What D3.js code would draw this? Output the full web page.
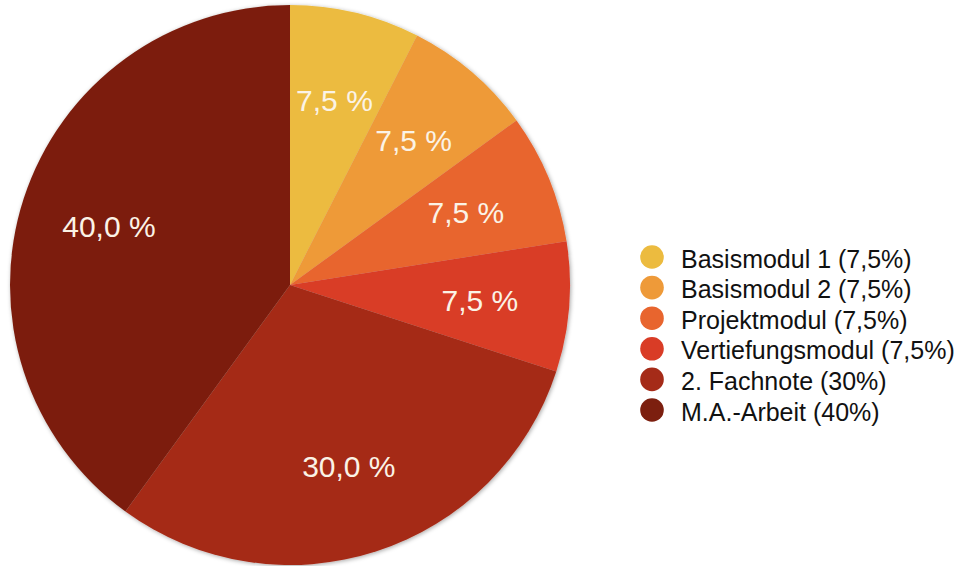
<!DOCTYPE html>
<html>
<head>
<meta charset="utf-8">
<script src="https://cdn.jsdelivr.net/npm/d3@7"></script>
<style>
  body { margin: 0; background: #fff; }
</style>
</head>
<body>
<script>
const categories = ["Basismodul 1", "Basismodul 2", "Projektmodul", "Vertiefungsmodul", "2. Fachnote", "M.A.-Arbeit"];
const values = [7.5, 7.5, 7.5, 7.5, 30, 40];
const legendLabels = ["Basismodul 1 (7,5%)", "Basismodul 2 (7,5%)", "Projektmodul (7,5%)", "Vertiefungsmodul (7,5%)", "2. Fachnote (30%)", "M.A.-Arbeit (40%)"];
const sliceLabels = ["7,5 %", "7,5 %", "7,5 %", "7,5 %", "30,0 %", "40,0 %"];
const colors = ["#ecbb3f", "#ee9a39", "#e8652e", "#d93c26", "#a52b18", "#7c1f0f"];

const width = 964, height = 566,
    cx = 290, cy = 285, radius = 280;

const svg = d3.select("body").append("svg")
    .attr("width", width)
    .attr("height", height);

const defs = svg.append("defs");
const shadow = defs.append("filter").attr("id", "shadow")
    .attr("x", "-10%").attr("y", "-10%").attr("width", "120%").attr("height", "120%");
shadow.append("feDropShadow")
    .attr("dx", 1).attr("dy", 1).attr("stdDeviation", 2)
    .attr("flood-color", "#000").attr("flood-opacity", 0.35);

const data = categories.map((c, i) => ({ name: c, value: values[i], label: sliceLabels[i], color: colors[i] }));

const pie = d3.pie().value(d => d.value).sort(null);
const arc = d3.arc().innerRadius(0).outerRadius(radius);
const labelArc = d3.arc().innerRadius(radius * 0.68).outerRadius(radius * 0.68);

const g = svg.append("g").attr("transform", `translate(${cx},${cy})`);

g.append("g").attr("filter", "url(#shadow)")
    .selectAll("path")
    .data(pie(data))
    .enter().append("path")
    .attr("d", arc)
    .attr("fill", d => d.data.color);

// slice labels
g.selectAll(".slice-label")
    .data(pie(data))
    .enter().append("text")
    .attr("class", "slice-label")
    .attr("transform", d => `translate(${labelArc.centroid(d)})`)
    .attr("text-anchor", "middle")
    .attr("dy", "0.36em")
    .style("font-family", "'Liberation Sans', Arial, sans-serif")
    .style("font-size", "30px")
    .style("fill", "#fbf3e6")
    .text(d => d.data.label);

// legend
const legend = svg.append("g")
    .attr("class", "legend")
    .attr("transform", "translate(652,257)");

const item = legend.selectAll(".item")
    .data(data)
    .enter().append("g")
    .attr("class", "item")
    .attr("transform", (d, i) => `translate(0,${i * 30.6})`);

item.append("circle")
    .attr("r", 11.8)
    .attr("fill", d => d.color);

item.append("text")
    .attr("x", 29)
    .attr("dy", "0.42em")
    .style("font-family", "'Liberation Sans', Arial, sans-serif")
    .style("font-size", "25px")
    .style("fill", "#111")
    .text((d, i) => legendLabels[i]);
</script>
</body>
</html>
